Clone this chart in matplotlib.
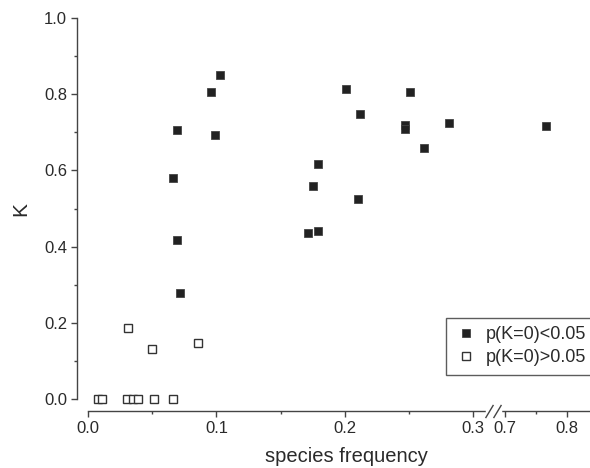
import numpy as np
import matplotlib
matplotlib.use('Agg')
import matplotlib.pyplot as plt
from matplotlib.transforms import blended_transform_factory, offset_copy

# species frequency / K, p(K=0) < 0.05
sig_freq = [0.103, 0.096, 0.099, 0.069, 0.066, 0.069, 0.072,
            0.201, 0.251, 0.212, 0.247, 0.247, 0.281, 0.262,
            0.179, 0.175, 0.210, 0.171, 0.179, 0.766]
sig_k = [0.850, 0.806, 0.693, 0.706, 0.580, 0.417, 0.278,
         0.814, 0.806, 0.748, 0.720, 0.708, 0.724, 0.659,
         0.617, 0.559, 0.525, 0.436, 0.441, 0.717]

# p(K=0) > 0.05
ns_freq = [0.008, 0.011, 0.030, 0.035, 0.039, 0.051, 0.066,
           0.031, 0.050, 0.086]
ns_k = [0.0, 0.0, 0.0, 0.0, 0.0, 0.0, 0.0,
        0.186, 0.132, 0.146]

x_ticks = [0.0, 0.1, 0.2, 0.3, 0.7, 0.8]
x_minor = [0.05, 0.15, 0.25, 0.75]

# broken x axis: 0-0.3 full scale, 0.3-0.7 squeezed, 0.7+ about half scale
brk_in = [-1.0, 0.3, 0.7, 2.0]
brk_out = [-1.0, 0.3, 0.3249, 0.3249 + 1.3 * 0.483]


def fwd(x):
    return np.interp(x, brk_in, brk_out)


def inv(x):
    return np.interp(x, brk_out, brk_in)


plt.rcParams['font.family'] = ['Liberation Sans', 'DejaVu Sans']
fg = '#2a2a2a'

fig = plt.figure(figsize=(5.9, 4.68), dpi=100)
ax = fig.add_axes([0.1492, 0.1474, 0.851, 0.8141])
ax.set_xscale('function', functions=(fwd, inv))
ax.set_xlim(0, 0.837)
ax.set_ylim(0, 1.0)

ax.plot(sig_freq, sig_k, 's', ms=6, mfc='#222222', mec='#444444', mew=0.6,
        clip_on=False, label='p(K=0)<0.05', zorder=3)
ax.plot(ns_freq, ns_k, 's', ms=6, mfc='white', mec='#333333', mew=1.0,
        clip_on=False, label='p(K=0)>0.05', zorder=3)

for s in ['top', 'right']:
    ax.spines[s].set_visible(False)
ax.spines['left'].set_position(('outward', 8))
ax.spines['bottom'].set_position(('outward', 8.6))
for s in ['left', 'bottom']:
    ax.spines[s].set_color('#444444')
    ax.spines[s].set_linewidth(1.0)

ax.set_xticks(x_ticks)
ax.set_xticklabels(['0.0', '0.1', '0.2', '0.3', '0.7', '0.8'])
ax.set_xticks(x_minor, minor=True)
ax.set_yticks([0.0, 0.2, 0.4, 0.6, 0.8, 1.0])
ax.set_yticklabels(['0.0', '0.2', '0.4', '0.6', '0.8', '1.0'])
ax.set_yticks([0.1, 0.3, 0.5, 0.7, 0.9], minor=True)
ax.tick_params(which='major', direction='out', length=4, width=1.0,
               color='#444444', labelsize=12, labelcolor=fg, pad=3)
ax.tick_params(which='minor', direction='out', length=2.5, width=1.0,
               color='#444444')

ax.set_xlabel('species frequency', fontsize=14.5, color=fg)
ax.set_ylabel('K', fontsize=15, color=fg)
ax.xaxis.set_label_coords(0.514, -0.125)
ax.yaxis.set_label_coords(-0.115, 0.5)

# break marks on the x axis
bt = offset_copy(blended_transform_factory(ax.transData, ax.transAxes),
                 fig=fig, y=-8.6, units='points')
ax.plot([0.47, 0.63], [0, 0], '-', color='white', lw=2.5, transform=bt,
        clip_on=False, zorder=4)
slash = [(-0.6, -1.0), (0.6, 1.0)]
for xb in [0.50, 0.60]:
    ax.plot([xb], [0], marker=slash, ms=9.5, mfc='none', mec='#444444', mew=1.0,
            transform=bt, clip_on=False, zorder=5)

leg = ax.legend(loc='upper left', bbox_to_anchor=(0.756, 0.3205),
                bbox_transform=fig.transFigure, fontsize=13, numpoints=1,
                frameon=True, fancybox=False, borderpad=0.45,
                handlelength=1.3, handletextpad=0.45, labelspacing=0.35,
                borderaxespad=0)
leg.get_frame().set_edgecolor('#333333')
leg.get_frame().set_linewidth(1.0)
for t in leg.get_texts():
    t.set_color(fg)

fig.savefig('out.png', dpi=100)
